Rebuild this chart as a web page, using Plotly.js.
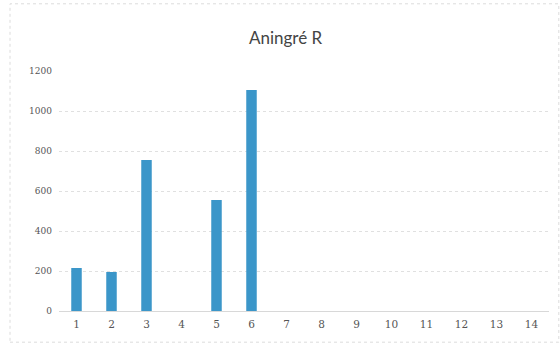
<!DOCTYPE html>
<html>
<head>
<meta charset="utf-8">
<script src="https://cdn.plot.ly/plotly-3.0.1.min.js"></script>
<style>html,body{margin:0;padding:0;background:#fff;}#chart{width:560px;height:345px;}</style>
</head>
<body>
<div id="chart"></div>
<script>
const categories = ["1","2","3","4","5","6","7","8","9","10","11","12","13","14"];
const values = [215, 195, 755, null, 555, 1105, null, null, null, null, null, null, null, null];
const yTicks = [0, 200, 400, 600, 800, 1000, 1200];

const trace = {
  type: "bar",
  x: categories,
  y: values,
  width: 0.3,
  marker: {color: "#3b96c9"},
  hoverinfo: "x+y"
};

const layout = {
  width: 560,
  height: 345,
  margin: {l: 59, r: 11, t: 71, b: 34},
  paper_bgcolor: "#ffffff",
  plot_bgcolor: "#ffffff",
  showlegend: false,
  title: {
    text: "Aningré R",
    font: {family: "Lato, 'Open Sans', sans-serif", size: 17, color: "#444"},
    x: 0.51, xanchor: "center", y: 0.89, yanchor: "middle"
  },
  xaxis: {
    type: "category",
    tickvals: categories,
    ticktext: categories,
    showgrid: false,
    showline: false,
    ticks: "",
    ticklabelstandoff: 5,
    tickfont: {family: "'DejaVu Serif', serif", size: 10.5, color: "#555"},
    fixedrange: true
  },
  yaxis: {
    range: [0, 1200],
    tickvals: yTicks,
    ticktext: yTicks.map(String),
    showgrid: true,
    gridcolor: "#e0e0e0",
    griddash: "dot",
    gridwidth: 1,
    zeroline: true,
    zerolinecolor: "#d8d8d8",
    zerolinewidth: 1,
    showline: false,
    ticks: "",
    ticklabelstandoff: 6,
    tickfont: {family: "'DejaVu Serif', serif", size: 9, color: "#555"},
    fixedrange: true
  },
  shapes: [{
    type: "rect", xref: "paper", yref: "paper",
    x0: -0.1, x1: 1.02, y0: -0.13, y1: 1.28,
    line: {color: "#dcdcdc", width: 1, dash: "dot"}
  }]
};

Plotly.newPlot("chart", [trace], layout, {displayModeBar: false, staticPlot: true});
</script>
</body>
</html>
